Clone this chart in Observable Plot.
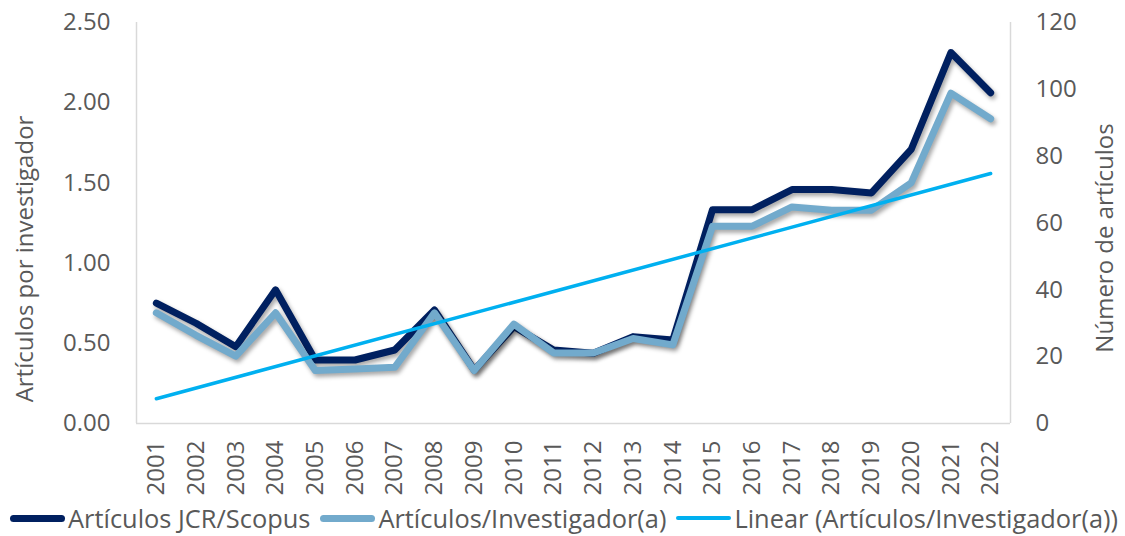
<!DOCTYPE html>
<html><head><meta charset="utf-8">
<script src="https://cdn.jsdelivr.net/npm/d3@7"></script>
<script src="https://cdn.jsdelivr.net/npm/@observablehq/plot@0.6"></script>
<style>
body{margin:0;background:#fff;font-family:"Open Sans",sans-serif;}
#chart{width:1125px;height:536px;position:relative;overflow:hidden;}
.legend{position:absolute;left:10px;top:502px;display:flex;align-items:center;font-size:25.4px;color:#595959;white-space:nowrap;line-height:32px;}
.sw{display:inline-block;width:55px;border-radius:4px;margin-right:3px;}
.item{display:flex;align-items:center;margin-right:10px;}
g[aria-label="line"] path{filter:drop-shadow(2px 3px 2px rgba(0,0,0,0.35));}
</style></head><body><div id="chart"></div>
<script>
const years = [2001,2002,2003,2004,2005,2006,2007,2008,2009,2010,2011,2012,2013,2014,2015,2016,2017,2018,2019,2020,2021,2022];
const articulosJCR = [36,30,23,40,19,19,22,34,16,29,22,21,26,25,64,64,70,70,69,82,111,99];
const articulosPorInv = [0.69,0.55,0.42,0.69,0.33,0.34,0.35,0.69,0.33,0.62,0.44,0.44,0.53,0.49,1.23,1.23,1.35,1.33,1.33,1.50,2.06,1.90];
const leftTicks = [0,0.5,1,1.5,2,2.5];
const rightTicks = [0,20,40,60,80,100,120];
const seriesNames = ["Artículos JCR/Scopus","Artículos/Investigador(a)","Linear (Artículos/Investigador(a))"];
const colors = ["#002060","#72AACC","#00B0F0"];
const leftTitle = "Artículos por investigador";
const rightTitle = "Número de artículos";

const scaleRatio = leftTicks[leftTicks.length-1] / rightTicks[rightTicks.length-1];
const data = years.map((y,i)=>({year:y, count:articulosJCR[i], ratio:articulosPorInv[i]}));
const xDomain = [years[0]-0.5, years[years.length-1]+0.5];
const textColor = "#595959";

const plot = Plot.plot({
  width:1125, height:502,
  marginLeft:136, marginRight:115, marginTop:22, marginBottom:79,
  style:{fontFamily:"'Open Sans', sans-serif", fontSize:"24px", color:textColor, background:"#fff", overflow:"visible"},
  x:{type:"linear", domain:xDomain},
  y:{domain:[0, leftTicks[leftTicks.length-1]]},
  marks:[
    Plot.ruleX(xDomain, {stroke:"#d9d9d9", strokeWidth:1.5}),
    Plot.ruleY([0], {stroke:"#d9d9d9", strokeWidth:1.5}),
    Plot.axisX({ticks:years, tickFormat:d=>String(d), tickRotate:-90, tickSize:0, tickPadding:17, label:null, fill:textColor}),
    Plot.axisY({anchor:"left", ticks:leftTicks, tickFormat:d3.format(".2f"), tickSize:0, tickPadding:26, label:null, fill:textColor}),
    Plot.axisY({anchor:"right", ticks:rightTicks.map(v=>v*scaleRatio), tickFormat:d=>String(Math.round(d/scaleRatio)), tickSize:0, tickPadding:25, label:null, fill:textColor}),
    Plot.line(data, {x:"year", y:d=>d.count*scaleRatio, stroke:colors[0], strokeWidth:7, strokeLinecap:"round", strokeLinejoin:"round"}),
    Plot.line(data, {x:"year", y:"ratio", stroke:colors[1], strokeWidth:7, strokeLinecap:"round", strokeLinejoin:"round"}),
    Plot.linearRegressionY(data, {x:"year", y:"ratio", stroke:colors[2], strokeWidth:3.5, ci:0}),
    Plot.text([leftTitle], {frameAnchor:"left", textAnchor:"middle", rotate:-90, dx:-111, dy:36, fill:textColor}),
    Plot.text([rightTitle], {frameAnchor:"right", textAnchor:"middle", rotate:-90, dx:95, dy:15, fill:textColor})
  ]
});
const chart = document.getElementById("chart");
chart.appendChild(plot);

const legend = document.createElement("div");
legend.className = "legend";
seriesNames.forEach((name,i)=>{
  const item = document.createElement("div");
  item.className = "item";
  const sw = document.createElement("span");
  sw.className = "sw";
  sw.style.background = colors[i];
  sw.style.height = (i===2 ? 4 : 7) + "px";
  item.appendChild(sw);
  const t = document.createElement("span");
  t.textContent = name;
  item.appendChild(t);
  legend.appendChild(item);
});
chart.appendChild(legend);
</script>
</body></html>
